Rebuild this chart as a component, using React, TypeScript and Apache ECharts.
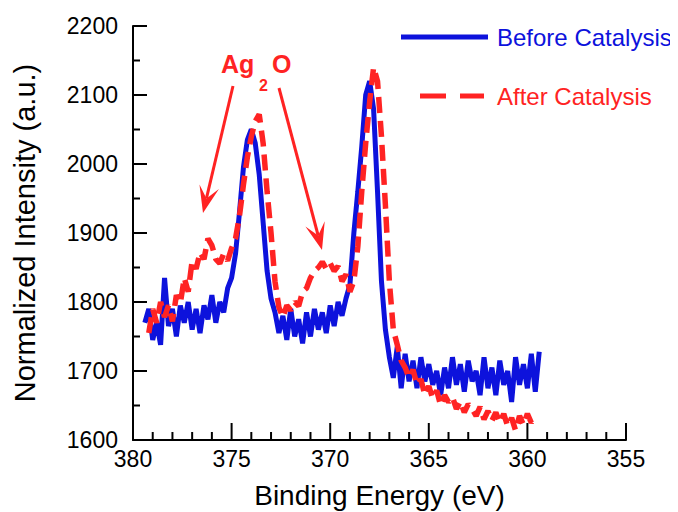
import React, { useEffect, useRef } from "react";
import * as echarts from "echarts";

// Binding energy grid (eV), regular 0.2 eV steps, descending
const energyStep = 0.2;
const beforeStart = 379.4;
const afterStart = 379.2;

// Before Catalysis (blue, solid)
const beforeValues = [
  1770, 1790, 1745, 1770, 1738, 1835, 1765, 1790, 1750, 1795,
  1770, 1800, 1760, 1790, 1755, 1795, 1775, 1810, 1770, 1800,
  1785, 1820, 1835, 1870, 1930, 1995, 2035, 2050, 2030, 1985,
  1915, 1845, 1805, 1785, 1755, 1780, 1745, 1790, 1750, 1775,
  1740, 1785, 1750, 1790, 1760, 1785, 1755, 1795, 1765, 1800,
  1780, 1805, 1825, 1900, 1960, 2025, 2100, 2120, 2080, 1960,
  1830, 1760, 1720, 1690, 1735, 1675, 1725, 1685, 1715, 1675,
  1720, 1685, 1710, 1680, 1700, 1665, 1705, 1675, 1720, 1680,
  1710, 1670, 1715, 1685, 1700, 1665, 1720, 1675, 1705, 1665,
  1715, 1680, 1700, 1655, 1720, 1680, 1710, 1675, 1725, 1670,
  1728,
];

// After Catalysis (red, dashed)
const afterValues = [
  1755, 1790, 1770, 1800, 1778, 1795, 1772, 1810, 1798, 1835,
  1815, 1860, 1848, 1872, 1862, 1892, 1882, 1862, 1856, 1870,
  1860, 1878, 1892, 1925, 1970, 2010, 2040, 2062, 2072, 2030,
  1960, 1900, 1830, 1792, 1778, 1795, 1788, 1800, 1794, 1815,
  1820, 1835, 1845, 1850, 1858, 1848, 1856, 1845, 1852, 1830,
  1840, 1815, 1830, 1880, 1960, 2030, 2090, 2140, 2120, 2040,
  1940, 1830, 1760, 1738, 1715, 1705, 1690, 1702, 1680, 1688,
  1665, 1678, 1660, 1672, 1650, 1665, 1655, 1662, 1645, 1656,
  1640, 1652, 1645, 1635, 1648, 1630, 1642, 1628, 1640, 1625,
  1638, 1620, 1632, 1614, 1635, 1622, 1638, 1625, 1635,
];

const seriesNames = ["Before Catalysis", "After Catalysis"];
const xAxisRange = { min: 355, max: 380, interval: 5 };
const yAxisRange = { min: 1600, max: 2200, interval: 100 };
const xMajorTicks = [355, 360, 365, 370, 375, 380];
const xMinorTicks = [
  356, 357, 358, 359, 361, 362, 363, 364, 366, 367, 368, 369,
  371, 372, 373, 374, 376, 377, 378, 379,
];
const yMajorTicks = [1600, 1700, 1800, 1900, 2000, 2100, 2200];
const yMinorTicks = [1650, 1750, 1850, 1950, 2050, 2150];
const xAxisTitle = "Binding Energy (eV)";
const yAxisTitle = "Normalized Intensity (a.u.)";

const BLUE = "#0d12dc";
const RED = "#ff2323";
const FONT = "'Liberation Sans', Arial, Helvetica, sans-serif";

// The chart div sits inside the body's default 8px margin
const OFF = 8;

function toPairs(start: number, values: number[]) {
  return values.map((v, i) => [Number((start - i * energyStep).toFixed(2)), v]);
}

function arrow(x1: number, y1: number, x2: number, y2: number) {
  x1 -= OFF; y1 -= OFF; x2 -= OFF; y2 -= OFF;
  const dx = x2 - x1;
  const dy = y2 - y1;
  const L = Math.hypot(dx, dy);
  const ux = dx / L;
  const uy = dy / L;
  const px = -uy;
  const py = ux;
  const headLen = 27;
  const notch = 15;
  const half = 10;
  const nx = x2 - ux * notch;
  const ny = y2 - uy * notch;
  const bx = x2 - ux * headLen;
  const by = y2 - uy * headLen;
  return [
    {
      type: "line",
      shape: { x1, y1, x2: nx, y2: ny },
      style: { stroke: RED, lineWidth: 3 },
      z: 100,
    },
    {
      type: "polygon",
      shape: {
        points: [
          [x2, y2],
          [bx + px * half, by + py * half],
          [nx, ny],
          [bx - px * half, by - py * half],
        ],
      },
      style: { fill: RED },
      z: 100,
    },
  ];
}

const staticGraphics = [
  {
    type: "line",
    shape: { x1: 401 - OFF, y1: 37 - OFF, x2: 488 - OFF, y2: 37 - OFF },
    style: { stroke: BLUE, lineWidth: 5 },
  },
  {
    type: "text",
    x: 497 - OFF,
    y: 37 - OFF,
    style: {
      text: seriesNames[0],
      fill: BLUE,
      font: `24px ${FONT}`,
      verticalAlign: "middle",
      align: "left",
    },
  },
  {
    type: "line",
    shape: { x1: 420 - OFF, y1: 96 - OFF, x2: 484 - OFF, y2: 96 - OFF },
    style: { stroke: RED, lineWidth: 5, lineDash: [26, 14] },
  },
  {
    type: "text",
    x: 497 - OFF,
    y: 96 - OFF,
    style: {
      text: seriesNames[1],
      fill: RED,
      font: `24px ${FONT}`,
      verticalAlign: "middle",
      align: "left",
    },
  },
  {
    type: "text",
    x: 221 - OFF,
    y: 64 - OFF,
    style: { text: "Ag", fill: RED, font: `bold 25px ${FONT}`, verticalAlign: "middle" },
    z: 100,
  },
  {
    type: "text",
    x: 259 - OFF,
    y: 85 - OFF,
    style: { text: "2", fill: RED, font: `bold 16px ${FONT}`, verticalAlign: "middle" },
    z: 100,
  },
  {
    type: "text",
    x: 272 - OFF,
    y: 64 - OFF,
    style: { text: "O", fill: RED, font: `bold 25px ${FONT}`, verticalAlign: "middle" },
    z: 100,
  },
  ...arrow(233, 86, 203, 213),
  ...arrow(279, 88, 322, 250),
];

export default function App() {
  const ref = useRef<HTMLDivElement>(null);

  useEffect(() => {
    if (!ref.current) return;
    const chart = echarts.init(ref.current, undefined, { renderer: "svg" });

    const axisCommon = {
      axisLine: { show: true, lineStyle: { color: "#000", width: 2 } },
      splitLine: { show: false },
      axisTick: { show: false },
      minorTick: { show: false },
    };

    // ticks: [value, length]
    const xTickData = [
      ...xMajorTicks.map((v) => [v, 17]),
      ...xMinorTicks.map((v) => [v, 8]),
    ];
    const yTickData = [
      ...yMajorTicks.map((v) => [v, 14]),
      ...yMinorTicks.map((v) => [v, 7]),
    ];

    chart.setOption({
      animation: false,
      backgroundColor: "#fff",
      grid: {
        left: 133 - OFF,
        right: 52,
        top: 26 - OFF,
        bottom: 72,
        containLabel: false,
        outerBoundsMode: "none",
      },
      xAxis: {
        type: "value",
        inverse: true,
        min: xAxisRange.min,
        max: xAxisRange.max,
        interval: xAxisRange.interval,
        name: xAxisTitle,
        nameLocation: "middle",
        nameGap: 41,
        nameTextStyle: { fontSize: 28, color: "#000", fontFamily: FONT },
        ...axisCommon,
        axisLabel: {
          fontSize: 23,
          color: "#000",
          fontFamily: FONT,
          margin: 7,
          showMinLabel: true,
          showMaxLabel: true,
          formatter: (v: number) => String(v),
        },
      },
      yAxis: {
        type: "value",
        min: yAxisRange.min,
        max: yAxisRange.max,
        interval: yAxisRange.interval,
        name: yAxisTitle,
        nameLocation: "middle",
        nameGap: 94,
        nameTextStyle: { fontSize: 29, color: "#000", fontFamily: FONT },
        ...axisCommon,
        axisLabel: {
          fontSize: 23,
          color: "#000",
          fontFamily: FONT,
          margin: 15,
          showMinLabel: true,
          showMaxLabel: true,
          formatter: (v: number) => String(v),
        },
      },
      series: [
        {
          name: seriesNames[0],
          type: "line",
          data: toPairs(beforeStart, beforeValues),
          symbol: "none",
          lineStyle: { color: BLUE, width: 5 },
          itemStyle: { color: BLUE },
          z: 2,
        },
        {
          name: seriesNames[1],
          type: "line",
          data: toPairs(afterStart, afterValues),
          symbol: "none",
          lineStyle: { color: RED, width: 5.5, type: [16, 8] },
          itemStyle: { color: RED },
          z: 3,
        },
        {
          name: "xTicks",
          type: "custom",
          clip: false,
          silent: true,
          z: 10,
          data: xTickData,
          renderItem: (_params: any, api: any) => {
            const v = api.value(0);
            const len = api.value(1);
            const p = api.coord([v, yAxisRange.min]);
            return {
              type: "line",
              shape: { x1: p[0], y1: p[1], x2: p[0], y2: p[1] - len },
              style: { stroke: "#000", lineWidth: 2 },
            };
          },
        },
        {
          name: "yTicks",
          type: "custom",
          clip: false,
          silent: true,
          z: 10,
          data: yTickData,
          encode: { x: 1, y: 0 },
          renderItem: (_params: any, api: any) => {
            const v = api.value(0);
            const len = api.value(1);
            const p = api.coord([xAxisRange.max, v]);
            return {
              type: "line",
              shape: { x1: p[0], y1: p[1], x2: p[0] + len, y2: p[1] },
              style: { stroke: "#000", lineWidth: 2 },
            };
          },
        },
      ],
      graphic: staticGraphics,
    });

    return () => chart.dispose();
  }, []);

  return <div ref={ref} style={{ width: 678 - OFF, height: 512 - OFF }} />;
}
